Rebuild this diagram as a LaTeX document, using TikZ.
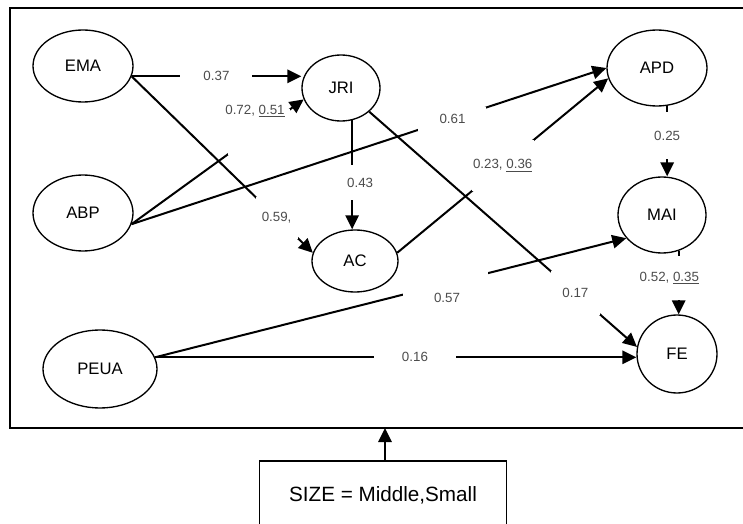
\documentclass[tikz,border=0pt]{standalone}
\usepackage{fontspec}
\setmainfont{Liberation Sans}
\usetikzlibrary{shapes.geometric,arrows.meta}

\begin{document}
\begin{tikzpicture}[x=0.75pt,y=-0.75pt,
  var/.style={draw, ellipse, line width=1pt, inner sep=0pt, font=\fontsize{12.5}{14}\selectfont},
  link/.style={line width=1.5pt, -{Triangle[length=10.5pt,width=10pt]}},
  coef/.style={fill=white, text=black!70, inner sep=1pt, font=\fontsize{10}{12}\selectfont},
  gap/.style={fill=white, inner sep=0pt}]
\useasboundingbox (0,0) rectangle (743,524);

\draw[line width=1pt] (743,8) -- (10,8) -- (10,428) -- (743,428);
\coordinate (frameb) at (385,428);

\node[var, minimum width=75pt, minimum height=54pt] (EMA) at (83,66) {EMA};
\node[var, minimum width=75pt, minimum height=57pt] (ABP) at (83,213) {ABP};
\node[var, minimum width=85.5pt, minimum height=58.5pt] (PEUA) at (100,369) {PEUA};
\node[var, minimum width=58.5pt, minimum height=49.5pt] (JRI) at (341,88) {JRI};
\node[var, minimum width=64.5pt, minimum height=46.5pt] (AC) at (355,261) {AC};
\node[var, minimum width=75pt, minimum height=57pt] (APD) at (657,68) {APD};
\node[var, minimum width=66pt, minimum height=57pt] (MAI) at (662,215) {MAI};
\node[var, minimum width=60pt, minimum height=58.5pt] (FE) at (677,354) {FE};

\node[draw, line width=1pt, minimum width=185pt, minimum height=51pt,
  font=\fontsize{15.5}{18}\selectfont] (size) at (383,495) {SIZE = Middle,Small};

\path[draw,link] (EMA.-12) -- node[coef, minimum width=54pt] (c37) {0.37} (EMA.-12 -| JRI.west);
\path[draw,link] (EMA.-12) -- node[coef, pos=0.8, minimum size=31.5pt] (c59) {0.59,} (AC.169);
\path[draw,link] (ABP.-13) -- node[gap, pos=0.74, minimum width=46pt, minimum height=34pt] (c72) {} (JRI.197);
\path[draw,link] (ABP.-13) -- node[coef, pos=0.676, minimum width=51pt, minimum height=18pt] (c61) {0.61} (APD.180);
\path[draw,link] (JRI.-71) -- node[coef, pos=0.57, minimum height=26pt, xshift=6pt] (c43) {0.43} (JRI.-71 |- AC.north);
\path[draw,link] (AC.11) -- node[coef, pos=0.5, minimum height=38pt] (c23) {0.23, \underline{0.36}} (APD.192);
\path[draw,link] (APD.-75) -- node[coef, pos=0.42, minimum height=35pt] (c25) {0.25} (APD.-75 |- MAI.north);
\path[draw,link] (MAI.-65) -- node[coef, pos=0.43, minimum height=33pt, xshift=-7pt] (c52) {0.52, \underline{0.35}} (MAI.-65 |- FE.north);
\path[draw,link] (JRI.-40) -- node[coef, pos=0.77, minimum width=37pt, minimum height=33pt] (c17) {0.17} (FE.170);
\path[draw,link] (PEUA.12) -- node[gap, pos=0.617, minimum width=64pt, minimum height=20pt] (c57) {} (MAI.213);
\path[draw,link] (PEUA.12) -- node[coef, pos=0.54, minimum width=61pt] (c16) {0.16} (PEUA.12 -| FE.west);

% offset coefficient texts
\node[coef, fill=none] (t72) at (255,111) {0.72, \underline{0.51}};
\node[coef, fill=none] (t57) at (447,298) {0.57};

\path[draw,link] (size.north -| frameb) -- (frameb);
\end{tikzpicture}
\end{document}
